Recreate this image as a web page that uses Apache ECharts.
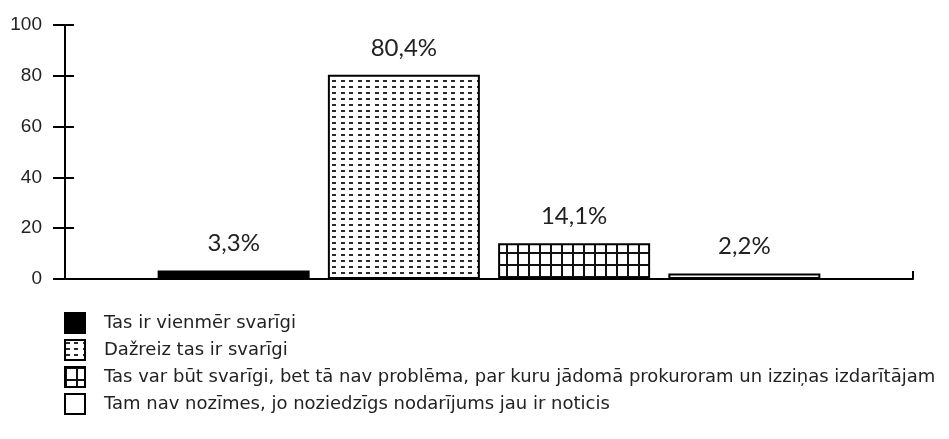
<!DOCTYPE html>
<html>
<head>
<meta charset="utf-8">
<script src="https://cdn.jsdelivr.net/npm/echarts@6/dist/echarts.min.js"></script>
<style>
html,body{margin:0;padding:0;background:#fff;}
#chart{width:949px;height:439px;}
</style>
</head>
<body>
<div id="chart"></div>
<script>
const categories = [''];
const seriesNames = [
  'Tas ir vienmēr svarīgi',
  'Dažreiz tas ir svarīgi',
  'Tas var būt svarīgi, bet tā nav problēma, par kuru jādomā prokuroram un izziņas izdarītājam',
  'Tam nav nozīmes, jo noziedzīgs nodarījums jau ir noticis'
];
const seriesValues = [3.3, 80.4, 14.1, 2.2];
const yTicks = [0, 20, 40, 60, 80, 100];

function dashPattern() {
  const c = document.createElement('canvas');
  c.width = 17; c.height = 12;
  const g = c.getContext('2d');
  g.fillStyle = '#fff'; g.fillRect(0, 0, 17, 12);
  g.fillStyle = '#2a2a2a';
  g.fillRect(1, 2, 4, 2); g.fillRect(9, 2, 4, 2);
  g.fillRect(1, 8, 4, 2); g.fillRect(9, 8, 4, 2);
  return c;
}
function gridPattern() {
  const c = document.createElement('canvas');
  c.width = 11; c.height = 12;
  const g = c.getContext('2d');
  g.fillStyle = '#fff'; g.fillRect(0, 0, 11, 12);
  g.fillStyle = '#111';
  g.fillRect(0, 0, 2, 12);
  g.fillRect(0, 0, 11, 2);
  return c;
}

const fills = [
  '#000',
  { image: dashPattern(), repeat: 'repeat' },
  { image: gridPattern(), repeat: 'repeat' },
  '#fff'
];

const chart = echarts.init(document.getElementById('chart'), null, { renderer: 'canvas' });
const labelFont = 'Lato, "DejaVu Sans", sans-serif';

chart.setOption({
  animation: false,
  backgroundColor: '#fff',
  grid: { left: 65, right: 36, top: 25, bottom: 160, containLabel: false },
  legend: {
    orient: 'vertical',
    left: 64,
    top: 312,
    padding: 0,
    itemWidth: 20,
    itemHeight: 20,
    itemGap: 5,
    icon: 'rect',
    textStyle: { fontFamily: '"DejaVu Sans", sans-serif', fontSize: 18, lineHeight: 20, color: '#222', padding: [0, 0, 0, 14] },
    data: seriesNames
  },
  xAxis: {
    type: 'category',
    data: categories,
    axisLine: { lineStyle: { color: '#000', width: 2 } },
    axisTick: { show: true, inside: true, length: 8, lineStyle: { color: '#000', width: 2 } },
    axisLabel: { show: false }
  },
  yAxis: [
    {
      type: 'value', min: 0, max: 100, interval: 20,
      axisLine: { show: true, lineStyle: { color: '#000', width: 2 } },
      axisTick: { show: true, length: 12, lineStyle: { color: '#000', width: 2 } },
      axisLabel: {
        margin: 23, fontFamily: '"Liberation Sans", Arial, sans-serif', fontSize: 19, color: '#222',
        formatter: v => yTicks.indexOf(v) >= 0 ? String(v) : ''
      },
      splitLine: { show: false }
    },
    {
      type: 'value', min: 0, max: 100, interval: 20, position: 'left',
      axisLine: { show: false },
      axisTick: { show: true, inside: true, length: 9, lineStyle: { color: '#000', width: 2 } },
      axisLabel: { show: false },
      splitLine: { show: false }
    }
  ],
  series: seriesNames.map((name, i) => ({
    name: name,
    type: 'bar',
    yAxisIndex: 0,
    data: [seriesValues[i]],
    barWidth: 152,
    barGap: '12%',
    itemStyle: { color: fills[i], borderColor: '#000', borderWidth: 2 },
    label: {
      show: true, position: 'top', distance: 15,
      fontFamily: labelFont, fontSize: 24, color: '#222',
      formatter: p => String(p.value).replace('.', ',') + '%'
    }
  }))
});
</script>
</body>
</html>
